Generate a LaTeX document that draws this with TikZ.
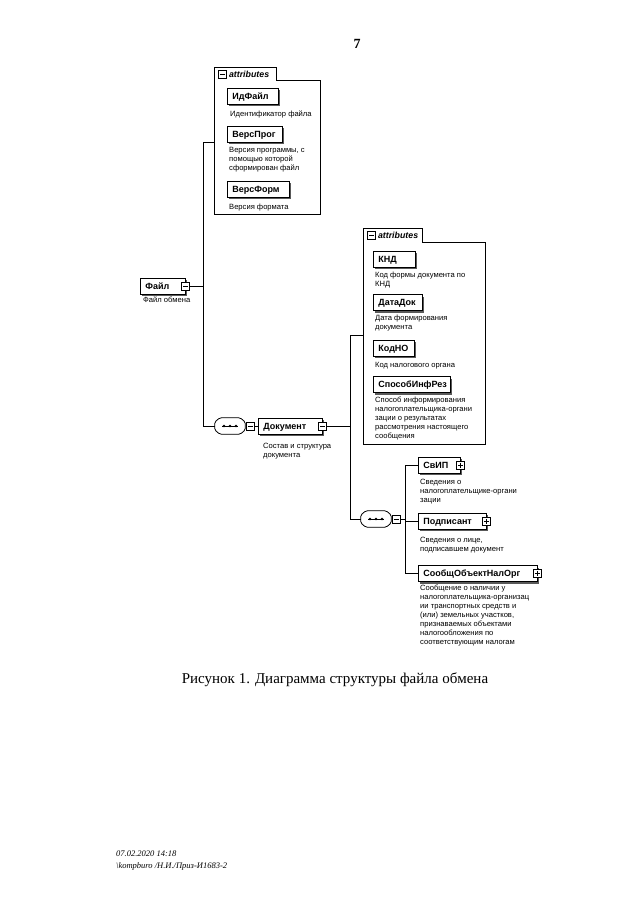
\documentclass[tikz,border=0pt]{standalone}
\usepackage{fontspec}
\setmainfont{Liberation Serif}
\setsansfont{Liberation Sans}
\usetikzlibrary{shadows}
\tikzset{
  conn/.style={line width=0.8pt},
  el/.style={draw, line width=0.8pt, fill=white, anchor=west,
    font=\sffamily\bfseries\fontsize{9}{10}\selectfont,
    minimum height=16pt, inner xsep=5pt, inner ysep=0pt, text width=#1, align=left,
    text height=6.6pt, text depth=0.6pt,
    drop shadow={shadow xshift=2pt, shadow yshift=-2pt, fill=black!65, opacity=1}},
  pmbox/.style={draw, line width=0.7pt, fill=white, minimum size=8pt, inner sep=0pt},
  minusbox/.style={pmbox, path picture={\draw[line width=0.8pt]
    ([xshift=1.5pt]path picture bounding box.west) -- ([xshift=-1.5pt]path picture bounding box.east);}},
  plusbox/.style={pmbox, path picture={\draw[line width=0.8pt]
    ([xshift=1.5pt]path picture bounding box.west) -- ([xshift=-1.5pt]path picture bounding box.east)
    ([yshift=-1.5pt]path picture bounding box.north) -- ([yshift=1.5pt]path picture bounding box.south);}},
  desc/.style={font=\sffamily\fontsize{7.6}{9}\selectfont, align=left, anchor=north west, inner sep=0pt},
  attrframe/.style={draw, line width=0.8pt},
  attrarea/.style={inner sep=0pt, anchor=north west},
  attrlabel/.style={font=\sffamily\bfseries\itshape\fontsize{8.8}{10}\selectfont, anchor=west, inner xsep=2pt, inner ysep=0pt},
  seqarea/.style={inner sep=0pt, minimum width=30pt, minimum height=16pt},
  seqline/.style={draw, line width=0.8pt, fill=white, rounded corners=1.5pt},
  seqshadow/.style={fill=black!65, rounded corners=1.5pt},
  pagetext/.style={font=\fontsize{15}{17}\selectfont},
}
\newcommand\seqoutline[1]{([xshift=5pt]#1.north west) -- ([xshift=-5pt]#1.north east) -- ([yshift=4pt]#1.east) -- ([yshift=-4pt]#1.east) -- ([xshift=-5pt]#1.south east) -- ([xshift=5pt]#1.south west) -- ([yshift=-4pt]#1.west) -- ([yshift=4pt]#1.west) -- cycle}
\newcommand\seqsymbol[1]{%
  \draw[line width=0.8pt] ([xshift=-8pt]#1.center) -- ([xshift=8pt]#1.center);
  \fill ([xshift=-6pt]#1.center) circle (1.4pt) (#1.center) circle (1.4pt) ([xshift=6pt]#1.center) circle (1.4pt);}
\begin{document}
\begin{tikzpicture}[x=1pt,y=-1pt]
\useasboundingbox (0,0) rectangle (640,905);

% page number
\node[font=\bfseries\fontsize{14}{16}\selectfont] (pnum) at (357,44) {7};

% ---------- attributes box 1 ----------
\node[attrarea, minimum width=106pt, minimum height=134pt] (attr1) at (214,80) {};
\coordinate (tab1nw) at (214,67);
\coordinate (tab1ne) at (276,67);
\coordinate (tab1se) at (276,80);
\draw[attrframe] (tab1se) -- (attr1.north east) -- (attr1.south east) -- (attr1.south west) -- (tab1nw) -- (tab1ne) -- cycle;
\node[minusbox] (t1m) at (222.5,74) {};
\node[attrlabel] (t1l) at (t1m.east) {attributes};

\node[el=41pt] (idfile) at (227,96) {ИдФайл};
\node[desc] (didfile) at (230,111) {Идентификатор файла};
\node[el=45pt] (versprog) at (227,134) {ВерсПрог};
\node[desc] (dversprog) at (229,147) {Версия программы, с\\помощью которой\\сформирован файл};
\node[el=52pt] (versform) at (227,189) {ВерсФорм};
\node[desc] (dversform) at (229,204) {Версия формата};

% ---------- Файл ----------
\node[el=35pt] (file) at (140,286) {Файл};
\node[minusbox] (filem) at (file.east) {};
\node[desc] (dfile) at (143,297) {Файл обмена};

\coordinate (j1) at (203,142);
\draw[conn] (filem.east) -- (filem.east -| j1);

% ---------- sequence 1 ----------
\node[seqarea] (seq1) at (230,426) {};
\fill[seqshadow, shift={(2pt,-2pt)}] \seqoutline{seq1};
\path[seqline] \seqoutline{seq1};
\seqsymbol{seq1}
\node[minusbox, anchor=west] (seq1m) at ([xshift=0.5pt]seq1.east) {};

\draw[conn] (attr1.west |- j1) -- (j1) -- (j1 |- seq1.west) -- (seq1.west);

% ---------- Документ ----------
\node[el=54pt] (doc) at (258,426) {Документ};
\node[minusbox] (docm) at (doc.east) {};
\node[desc] (ddoc) at (263,443) {Состав и структура\\документа};
\draw[conn] (seq1m.east) -- (doc.west);

% ---------- attributes box 2 ----------
\node[attrarea, minimum width=122pt, minimum height=202pt] (attr2) at (363,242) {};
\coordinate (tab2nw) at (363,228);
\coordinate (tab2ne) at (422,228);
\coordinate (tab2se) at (422,242);
\draw[attrframe] (tab2se) -- (attr2.north east) -- (attr2.south east) -- (attr2.south west) -- (tab2nw) -- (tab2ne) -- cycle;
\node[minusbox] (t2m) at (371.5,235) {};
\node[attrlabel] (t2l) at (t2m.east) {attributes};

\node[el=32pt] (knd) at (373,259) {КНД};
\node[desc] (dknd) at (375,272) {Код формы документа по\\КНД};
\node[el=39pt] (datadok) at (373,302.5) {ДатаДок};
\node[desc] (ddatadok) at (375,315) {Дата формирования\\документа};
\node[el=31pt] (kodno) at (373,348) {КодНО};
\node[desc] (dkodno) at (375,362) {Код налогового органа};
\node[el=67pt] (sposob) at (373,384.5) {СпособИнфРез};
\node[desc] (dsposob) at (375,397) {Способ информирования\\налогоплательщика-органи\\зации о результатах\\рассмотрения настоящего\\сообщения};

\coordinate (j2) at (350,335);
\draw[conn] (docm.east) -- (docm.east -| j2);

% ---------- sequence 2 ----------
\node[seqarea] (seq2) at (376,519) {};
\fill[seqshadow, shift={(2pt,-2pt)}] \seqoutline{seq2};
\path[seqline] \seqoutline{seq2};
\seqsymbol{seq2}
\node[minusbox, anchor=west] (seq2m) at ([xshift=0.5pt]seq2.east) {};

\draw[conn] (attr2.west |- j2) -- (j2) -- (j2 |- seq2.west) -- (seq2.west);

% ---------- children ----------
\node[el=32pt] (svip) at (418,465) {СвИП};
\node[plusbox] (svipp) at (svip.east) {};
\node[desc] (dsvip) at (420,479) {Сведения о\\налогоплательщике-органи\\зации};
\node[el=58pt] (podp) at (418,521) {Подписант};
\node[plusbox] (podpp) at (podp.east) {};
\node[desc] (dpodp) at (420,537) {Сведения о лице,\\подписавшем документ};
\node[el=109pt] (soob) at (418,573.5) {СообщОбъектНалОрг};
\node[plusbox] (soobp) at (soob.east) {};
\node[desc] (dsoob) at (420,585) {Сообщение о наличии у\\налогоплательщика-организац\\ии транспортных средств и\\(или) земельных участков,\\признаваемых объектами\\налогообложения по\\соответствующим налогам};

\coordinate (j3) at (405,465);
\draw[conn] (seq2m.east) -- (seq2m.east -| j3);
\draw[conn] (svip.west) -- (j3) -- (j3 |- soob.west) -- (soob.west);
\draw[conn] (podp.west) -- (podp.west -| j3);

% ---------- caption & footer ----------
\node[pagetext] (caption) at (335,680) {Рисунок 1. Диаграмма структуры файла обмена};
\node[font=\itshape\fontsize{8.5}{12}\selectfont, align=left, anchor=north west, inner sep=0pt] (footer) at (116,851)
  {07.02.2020 14:18\\\textbackslash kompburo /Н.И./Приз-И1683-2};
\end{tikzpicture}
\end{document}
